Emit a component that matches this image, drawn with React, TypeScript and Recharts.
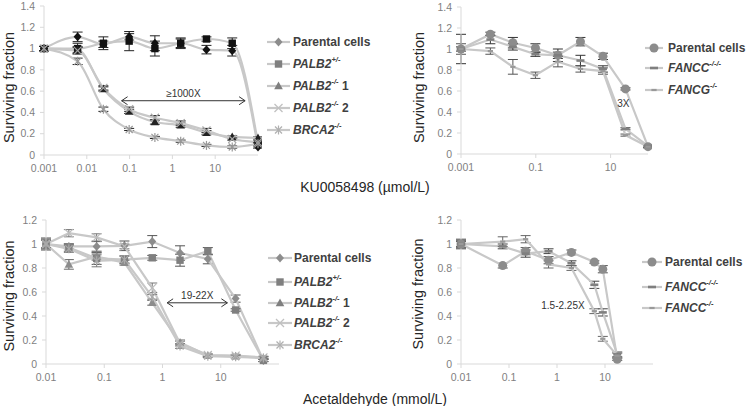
import React from "react";
import { LineChart, Line, XAxis, YAxis, ErrorBar, ReferenceLine, ReferenceDot } from "recharts";

const FONT = '"Liberation Sans", Arial, Helvetica, sans-serif';

// ---------- KU0058498 (µmol/L) panels ----------
const kuDose = [0.001, 0.0061, 0.0244, 0.0977, 0.39, 1.5625, 6.25, 25, 100];
const kuParental = [1.0, 1.11, 1.04, 1.11, 1.05, 1.05, 0.99, 0.98, 0.075];
const kuParentalErr = [0.02, 0.045, 0.03, 0.03, 0.07, 0.04, 0.04, 0.05, 0.01];
const kuPalb2Het = [1.0, 1.0, 1.05, 1.07, 1.0, 1.05, 1.09, 1.05, 0.11];
const kuPalb2HetErr = [0.02, 0.05, 0.06, 0.09, 0.07, 0.05, 0.02, 0.05, 0.02];
const kuPalb2Ko1 = [1.0, 0.99, 0.62, 0.41, 0.31, 0.28, 0.21, 0.17, 0.16];
const kuPalb2Ko1Err = [0.02, 0.03, 0.02, 0.02, 0.02, 0.02, 0.02, 0.01, 0.01];
const kuPalb2Ko2 = [1.0, 0.98, 0.63, 0.43, 0.35, 0.3, 0.23, 0.15, 0.12];
const kuPalb2Ko2Err = [0.02, 0.03, 0.02, 0.02, 0.02, 0.02, 0.02, 0.01, 0.01];
const kuBrca2 = [1.0, 0.88, 0.43, 0.24, 0.165, 0.13, 0.09, 0.075, 0.105];
const kuBrca2Err = [0.02, 0.03, 0.02, 0.01, 0.01, 0.01, 0.01, 0.01, 0.01];

const kuFaParental = [1.0, 1.14, 1.06, 1.01, 0.94, 1.07, 0.93, 0.62, 0.07];
const kuFaParentalErr = [0.02, 0.02, 0.05, 0.04, 0.03, 0.04, 0.03, 0.01, 0.01];
const kuFancc = [1.0, 1.09, 1.02, 0.95, 0.94, 0.89, 0.81, 0.24, 0.075];
const kuFanccErr = [0.14, 0.04, 0.03, 0.02, 0.06, 0.05, 0.03, 0.01, 0.01];
const kuFancg = [1.0, 0.98, 0.83, 0.75, 0.88, 0.81, 0.79, 0.18, 0.07];
const kuFancgErr = [0.05, 0.03, 0.07, 0.03, 0.05, 0.03, 0.03, 0.01, 0.01];

// ---------- Acetaldehyde (mmol/L) panels ----------
const acDose = [0.01, 0.0247, 0.074, 0.222, 0.667, 2, 6, 18, 54];
const acParental = [1.0, 0.98, 0.98, 0.985, 1.02, 0.925, 0.875, 0.545, 0.03];
const acParentalErr = [0.05, 0.02, 0.04, 0.04, 0.05, 0.06, 0.04, 0.03, 0.01];
const acPalb2Het = [1.0, 0.97, 0.88, 0.87, 0.885, 0.865, 0.94, 0.45, 0.03];
const acPalb2HetErr = [0.04, 0.03, 0.05, 0.03, 0.02, 0.05, 0.03, 0.01, 0.01];
const acPalb2Ko1 = [1.0, 0.83, 0.895, 0.845, 0.51, 0.18, 0.07, 0.065, 0.05];
const acPalb2Ko1Err = [0.03, 0.04, 0.03, 0.02, 0.02, 0.02, 0.01, 0.01, 0.01];
const acPalb2Ko2 = [1.0, 1.09, 1.055, 0.98, 0.635, 0.17, 0.075, 0.07, 0.055];
const acPalb2Ko2Err = [0.03, 0.03, 0.03, 0.02, 0.04, 0.02, 0.01, 0.01, 0.01];
const acBrca2 = [1.0, 0.96, 0.86, 0.87, 0.56, 0.15, 0.065, 0.06, 0.05];
const acBrca2Err = [0.03, 0.03, 0.05, 0.03, 0.02, 0.02, 0.01, 0.01, 0.01];

const acFaDose = [0.01, 0.074, 0.222, 0.667, 2, 6, 9, 18];
const acFaParental = [1.0, 0.82, 0.94, 0.865, 0.93, 0.85, 0.79, 0.04];
const acFaParentalErr = [0.02, 0.02, 0.03, 0.03, 0.02, 0.01, 0.03, 0.01];
const acFancc3 = [1.0, 0.98, 0.92, 0.94, 0.84, 0.66, 0.43, 0.08];
const acFancc3Err = [0.04, 0.02, 0.03, 0.02, 0.02, 0.03, 0.03, 0.02];
const acFancc2 = [1.0, 1.02, 1.04, 0.83, 0.8, 0.44, 0.21, 0.07];
const acFancc2Err = [0.03, 0.04, 0.03, 0.03, 0.02, 0.02, 0.02, 0.02];

// ---------- Tick labels / annotations ----------
const kuTicksLeft = [0.001, 0.01, 0.1, 1, 10];
const kuTicksRight = [0.001, 0.1, 10];
const acTicks = [0.01, 0.1, 1, 10];
const yTicksTop = [0, 0.2, 0.4, 0.6, 0.8, 1, 1.2, 1.4];
const yTicksBottom = [0, 0.2, 0.4, 0.6, 0.8, 1, 1.2];
const kuArrow = { from: 0.065, to: 50, y: 0.51, text: "\u22651000X" };
const acArrow = { from: 1.2, to: 13, y: 0.51, text: "19-22X" };
const kuFaNote = { x: 22, y: 0.48, text: "3X" };
const acFaNote = { x: 1.33, y: 0.49, text: "1.5-2.25X" };

type Shape = "diamond" | "square" | "triangle" | "cross" | "star" | "circle" | "dash" | "dashSmall";

interface SeriesDef {
  key: string;
  plain?: string;
  gene?: string;
  sup?: string;
  suffix?: string;
  shape: Shape;
  values: number[];
  errors: number[];
  marker: string;
  legendMarker: string;
  err: string;
}

function Marker({ shape, cx, cy, color }: { shape: Shape; cx: number; cy: number; color: string }) {
  switch (shape) {
    case "diamond":
      return <polygon points={`${cx},${cy - 4.5} ${cx + 4},${cy} ${cx},${cy + 4.5} ${cx - 4},${cy}`} fill={color} />;
    case "square":
      return <rect x={cx - 3.7} y={cy - 3.7} width={7.4} height={7.4} fill={color} />;
    case "triangle":
      return <polygon points={`${cx},${cy - 4.5} ${cx + 4.3},${cy + 3.3} ${cx - 4.3},${cy + 3.3}`} fill={color} />;
    case "cross":
      return (
        <g stroke={color} strokeWidth={1.2}>
          <line x1={cx - 4} y1={cy - 4} x2={cx + 4} y2={cy + 4} />
          <line x1={cx - 4} y1={cy + 4} x2={cx + 4} y2={cy - 4} />
        </g>
      );
    case "star":
      return (
        <g stroke={color} strokeWidth={1.2}>
          <line x1={cx - 3.5} y1={cy - 3.5} x2={cx + 3.5} y2={cy + 3.5} />
          <line x1={cx - 3.5} y1={cy + 3.5} x2={cx + 3.5} y2={cy - 3.5} />
          <line x1={cx} y1={cy - 4.5} x2={cx} y2={cy + 4.5} />
        </g>
      );
    case "circle":
      return <circle cx={cx} cy={cy} r={4.5} fill={color} />;
    case "dash":
      return <rect x={cx - 4} y={cy - 1.3} width={8} height={2.6} fill={color} />;
    case "dashSmall":
      return <rect x={cx - 2.6} y={cy - 1.1} width={5.2} height={2.2} fill={color} />;
  }
  return null;
}

const kuPalbSeries: SeriesDef[] = [
  { key: "par", plain: "Parental cells", shape: "diamond", values: kuParental, errors: kuParentalErr, marker: "#111", legendMarker: "#8c8c8c", err: "#222" },
  { key: "het", gene: "PALB2", sup: "+/-", shape: "square", values: kuPalb2Het, errors: kuPalb2HetErr, marker: "#111", legendMarker: "#7f7f7f", err: "#222" },
  { key: "ko1", gene: "PALB2", sup: "-/-", suffix: " 1", shape: "triangle", values: kuPalb2Ko1, errors: kuPalb2Ko1Err, marker: "#222", legendMarker: "#7f7f7f", err: "#222" },
  { key: "ko2", gene: "PALB2", sup: "-/-", suffix: " 2", shape: "cross", values: kuPalb2Ko2, errors: kuPalb2Ko2Err, marker: "#a6a6a6", legendMarker: "#c0c0c0", err: "#222" },
  { key: "brca", gene: "BRCA2", sup: "-/-", shape: "star", values: kuBrca2, errors: kuBrca2Err, marker: "#999", legendMarker: "#b0b0b0", err: "#222" },
];

const kuFaSeries: SeriesDef[] = [
  { key: "par", plain: "Parental cells", shape: "circle", values: kuFaParental, errors: kuFaParentalErr, marker: "#8c8c8c", legendMarker: "#8c8c8c", err: "#333" },
  { key: "fc", gene: "FANCC", sup: "-/-/-", shape: "dash", values: kuFancc, errors: kuFanccErr, marker: "#7f7f7f", legendMarker: "#7f7f7f", err: "#333" },
  { key: "fg", gene: "FANCG", sup: "-/-", shape: "dashSmall", values: kuFancg, errors: kuFancgErr, marker: "#999", legendMarker: "#999", err: "#555" },
];

const acPalbSeries: SeriesDef[] = [
  { key: "par", plain: "Parental cells", shape: "diamond", values: acParental, errors: acParentalErr, marker: "#8c8c8c", legendMarker: "#8c8c8c", err: "#555" },
  { key: "het", gene: "PALB2", sup: "+/-", shape: "square", values: acPalb2Het, errors: acPalb2HetErr, marker: "#7f7f7f", legendMarker: "#7f7f7f", err: "#555" },
  { key: "ko1", gene: "PALB2", sup: "-/-", suffix: " 1", shape: "triangle", values: acPalb2Ko1, errors: acPalb2Ko1Err, marker: "#8c8c8c", legendMarker: "#7f7f7f", err: "#666" },
  { key: "ko2", gene: "PALB2", sup: "-/-", suffix: " 2", shape: "cross", values: acPalb2Ko2, errors: acPalb2Ko2Err, marker: "#bbb", legendMarker: "#c0c0c0", err: "#777" },
  { key: "brca", gene: "BRCA2", sup: "-/-", shape: "star", values: acBrca2, errors: acBrca2Err, marker: "#aaa", legendMarker: "#b0b0b0", err: "#777" },
];

const acFaSeries: SeriesDef[] = [
  { key: "par", plain: "Parental cells", shape: "circle", values: acFaParental, errors: acFaParentalErr, marker: "#8c8c8c", legendMarker: "#8c8c8c", err: "#555" },
  { key: "f3", gene: "FANCC", sup: "-/-/-", shape: "dash", values: acFancc3, errors: acFancc3Err, marker: "#7f7f7f", legendMarker: "#7f7f7f", err: "#444" },
  { key: "f2", gene: "FANCC", sup: "-/-", shape: "dashSmall", values: acFancc2, errors: acFancc2Err, marker: "#999", legendMarker: "#999", err: "#666" },
];

const LINE = "#c8c8c8";
const AXIS = "#d9d9d9";
const TICK_TEXT = "#7f7f7f";

function fmt(v: number) {
  return String(+v.toFixed(3));
}

function Arrow(props: any, ann: { text: string }) {
  const { x1, y1, x2, y2 } = props;
  const h = 6;
  const w = 4;
  return (
    <g>
      <line x1={x1} y1={y1} x2={x2} y2={y2} stroke="#333" strokeWidth={1} />
      <polyline points={`${x1 + h},${y1 - w} ${x1},${y1} ${x1 + h},${y1 + w}`} fill="none" stroke="#333" strokeWidth={1} />
      <polyline points={`${x2 - h},${y2 - w} ${x2},${y2} ${x2 - h},${y2 + w}`} fill="none" stroke="#333" strokeWidth={1} />
      <text x={(x1 + x2) / 2} y={y1 - 4} textAnchor="middle" fontSize={10} fill="#333">
        {ann.text}
      </text>
    </g>
  );
}

interface PanelProps {
  left: number;
  top: number;
  width: number;
  height: number;
  plot: { l: number; r: number; t: number; b: number };
  dose: number[];
  series: SeriesDef[];
  xDomain: [number, number];
  xTicks: number[];
  yMax: number;
  yTicks: number[];
  curve: "monotone" | "linear";
  labelX: number;
  labelDy: number;
  arrow?: { from: number; to: number; y: number; text: string };
  note?: { x: number; y: number; text: string };
}

function Panel(p: PanelProps) {
  const rows = p.dose.map((x, i) => {
    const r: any = { x };
    p.series.forEach((s) => {
      r[s.key] = s.values[i];
      r[s.key + "E"] = s.errors[i];
    });
    return r;
  });
  const labelY = (p.plot.t + p.plot.b) / 2 + p.labelDy;
  return (
    <div style={{ position: "absolute", left: p.left, top: p.top }}>
      <LineChart
        width={p.width}
        height={p.height}
        data={rows}
        margin={{ top: p.plot.t, right: p.width - p.plot.r, bottom: p.height - p.plot.b - 20, left: 0 }}
      >
        <XAxis
          dataKey="x"
          type="number"
          scale="log"
          domain={p.xDomain}
          ticks={p.xTicks}
          interval={0}
          tickFormatter={fmt}
          axisLine={{ stroke: AXIS }}
          tickLine={{ stroke: AXIS }}
          tickSize={4}
          tickMargin={6}
          height={20}
          tick={{ fontSize: 10.5, fill: TICK_TEXT }}
        />
        <YAxis
          type="number"
          domain={[0, p.yMax]}
          ticks={p.yTicks}
          interval={0}
          tickFormatter={fmt}
          width={p.plot.l}
          axisLine={{ stroke: AXIS }}
          tickLine={{ stroke: AXIS }}
          tickSize={4}
          tickMargin={5}
          tick={{ fontSize: 10.5, fill: TICK_TEXT }}
          label={() => (
            <text
              x={p.labelX}
              y={labelY}
              transform={`rotate(-90, ${p.labelX}, ${labelY})`}
              textAnchor="middle"
              dominantBaseline="central"
              fontSize={14.5}
              fill="#262626"
            >
              Surviving fraction
            </text>
          )}
        />
        {p.series.map((s) => (
          <Line
            key={s.key}
            dataKey={s.key}
            type={p.curve}
            stroke={LINE}
            strokeWidth={2.2}
            isAnimationActive={false}
            activeDot={false}
            dot={(d: any) => <Marker key={`${s.key}-${d.index}`} shape={s.shape} cx={d.cx} cy={d.cy} color={s.marker} />}
          >
            <ErrorBar dataKey={s.key + "E"} direction="y" width={5} stroke={s.err} strokeWidth={1} />
          </Line>
        ))}
        {p.arrow && (
          <ReferenceLine
            segment={[
              { x: p.arrow.from, y: p.arrow.y },
              { x: p.arrow.to, y: p.arrow.y },
            ]}
            shape={(props: any) => Arrow(props, p.arrow!)}
          />
        )}
        {p.note && (
          <ReferenceDot
            x={p.note.x}
            y={p.note.y}
            r={0}
            shape={(props: any) => (
              <text x={props.cx} y={props.cy} textAnchor="middle" dominantBaseline="central" fontSize={10} fill="#333">
                {p.note!.text}
              </text>
            )}
          />
        )}
      </LineChart>
    </div>
  );
}

function LegendBox({ left, top, series, lineX1, lineX2, textX, ys }: { left: number; top: number; series: SeriesDef[]; lineX1: number; lineX2: number; textX: number; ys: number[] }) {
  return (
    <svg style={{ position: "absolute", left, top }} width={140} height={ys[ys.length - 1] + 14}>
      {series.map((s, i) => {
        const y = ys[i];
        const mx = (lineX1 + lineX2) / 2;
        return (
          <g key={s.key}>
            <line x1={lineX1} y1={y} x2={lineX2} y2={y} stroke={LINE} strokeWidth={2.2} />
            <Marker shape={s.shape} cx={mx} cy={y} color={s.legendMarker} />
            <text x={textX} y={y} dominantBaseline="central" fontSize={12} fontWeight="bold" fill="#404040">
              {s.plain ? (
                s.plain
              ) : (
                <>
                  <tspan fontStyle="italic">{s.gene}</tspan>
                  <tspan fontStyle="italic" fontSize={7.5} dy={-5}>
                    {s.sup}
                  </tspan>
                  {s.suffix ? <tspan dy={5}>{s.suffix}</tspan> : null}
                </>
              )}
            </text>
          </g>
        );
      })}
    </svg>
  );
}

export default function App() {
  return (
    <div style={{ position: "absolute", left: 0, top: 0, width: 747, height: 406, background: "#fff", fontFamily: FONT, overflow: "hidden" }}>
      <Panel
        left={0}
        top={0}
        width={262}
        height={182}
        plot={{ l: 44, r: 258, t: 6, b: 155 }}
        dose={kuDose}
        series={kuPalbSeries}
        xDomain={[0.001, 100]}
        xTicks={kuTicksLeft}
        yMax={1.4}
        yTicks={yTicksTop}
        curve="monotone"
        labelX={9}
        labelDy={7}
        arrow={kuArrow}
      />
      <Panel
        left={400}
        top={0}
        width={252}
        height={182}
        plot={{ l: 61, r: 248, t: 7, b: 154 }}
        dose={kuDose}
        series={kuFaSeries}
        xDomain={[0.001, 100]}
        xTicks={kuTicksRight}
        yMax={1.4}
        yTicks={yTicksTop}
        curve="linear"
        labelX={19}
        labelDy={7}
        note={kuFaNote}
      />
      <Panel
        left={0}
        top={200}
        width={283}
        height={190}
        plot={{ l: 46, r: 279, t: 20, b: 164 }}
        dose={acDose}
        series={acPalbSeries}
        xDomain={[0.01, 100]}
        xTicks={acTicks}
        yMax={1.2}
        yTicks={yTicksBottom}
        curve="linear"
        labelX={9}
        labelDy={4}
        arrow={acArrow}
      />
      <Panel
        left={400}
        top={200}
        width={256}
        height={190}
        plot={{ l: 61, r: 253, t: 20, b: 164 }}
        dose={acFaDose}
        series={acFaSeries}
        xDomain={[0.01, 100]}
        xTicks={acTicks}
        yMax={1.2}
        yTicks={yTicksBottom}
        curve="linear"
        labelX={18}
        labelDy={2}
        note={acFaNote}
      />
      <LegendBox left={262} top={0} series={kuPalbSeries} lineX1={5} lineX2={28} textX={31} ys={[42, 64, 86, 108, 130]} />
      <LegendBox left={640} top={0} series={kuFaSeries} lineX1={5} lineX2={23} textX={28} ys={[48, 68, 90]} />
      <LegendBox left={262} top={200} series={acPalbSeries} lineX1={6} lineX2={30} textX={32} ys={[58, 82, 103, 123, 145]} />
      <LegendBox left={637} top={200} series={acFaSeries} lineX1={5} lineX2={25} textX={28} ys={[62, 87, 108]} />
      <div style={{ position: "absolute", left: 215, width: 300, top: 179, textAlign: "center", fontSize: 14, lineHeight: "16px", color: "#262626" }}>
        KU0058498 (µmol/L)
      </div>
      <div style={{ position: "absolute", left: 225, width: 300, top: 391, textAlign: "center", fontSize: 14, lineHeight: "16px", color: "#262626" }}>
        Acetaldehyde (mmol/L)
      </div>
    </div>
  );
}
